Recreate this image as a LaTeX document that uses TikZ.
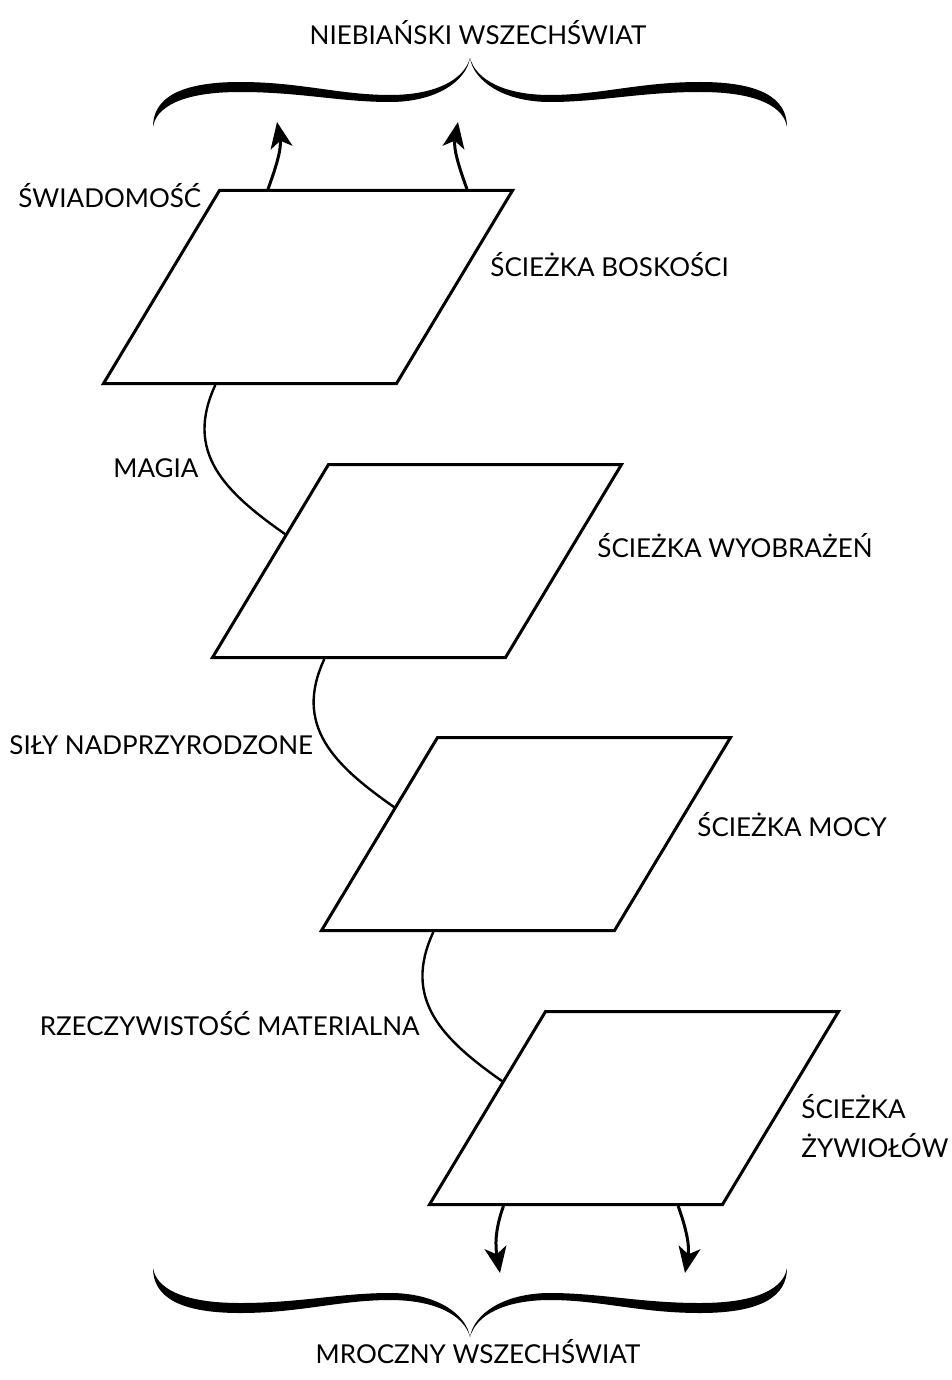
\documentclass[tikz,border=0pt]{standalone}
\usepackage{fontspec}
\setmainfont{Lato}
\usetikzlibrary{arrows.meta,calc}

\tikzset{
  plaszczyzna/.style={rectangle, draw, line width=1.5pt,
    minimum width=146.5pt, minimum height=96.5pt, inner sep=0pt,
    xslant=0.601, transform shape},
  napis/.style={inner sep=0pt, font=\fontsize{13}{19.5}\selectfont},
  luk/.style={line width=1.2pt},
  strzalka/.style={line width=1.5pt, -{Stealth[length=13pt,width=11pt,inset=3.5pt]}},
}

\begin{document}
\begin{tikzpicture}[x=0.5pt,y=0.5pt]
            \useasboundingbox (0,0) rectangle (952,-1380);

            % Klamry (niebo u gory, mrok u dolu)
            \foreach \sx/\sy/\ty in {1/1/-58, -1/1/-58, 1/-1/-1337, -1/-1/-1337}
              \fill[shift={(470,\ty)}, xscale=\sx, yscale=\sy]
                (-317,-69) .. controls (-317,-40) and (-290,-24) .. (-230,-24)
                .. controls (-170,-24) and (-130,-37) .. (-80,-37)
                .. controls (-35,-37) and (-6,-22) .. (0,0)
                .. controls (-4,-24) and (-35,-44) .. (-80,-44)
                .. controls (-130,-44) and (-170,-34) .. (-230,-34)
                .. controls (-290,-34) and (-314,-50) .. (-317,-69) -- cycle;

            \node[napis, anchor=base] (niebo) at (478,-45) {NIEBIAŃSKI WSZECHŚWIAT};
            \node[napis, anchor=base] (mrok) at (478,-1363) {MROCZNY WSZECHŚWIAT};

            % Sciezki
            \node[plaszczyzna] (boskosc) at (308,-287) {};
            \node[plaszczyzna] (wyobr) at (417,-561) {};
            \node[plaszczyzna] (moc) at (526,-834) {};
            \node[plaszczyzna] (zywioly) at (634,-1108) {};

            \node[napis, anchor=base west] (lboskosc) at (490,-277) {ŚCIEŻKA BOSKOŚCI};
            \node[napis, anchor=base west] (lwyobr) at (597,-557) {ŚCIEŻKA WYOBRAŻEŃ};
            \node[napis, anchor=base west] (lmoc) at (697,-836) {ŚCIEŻKA MOCY};
            \node[napis, anchor=west, align=left] (lzywioly) at (801,-1126) {ŚCIEŻKA\\ŻYWIOŁÓW};

            % Przejscia miedzy sciezkami
            \foreach \a/\b in {boskosc/wyobr, wyobr/moc, moc/zywioly}
              \draw[luk] ($(\a.south west)!0.386!(\a.south east)$)
                to[out=-115, in=145, looseness=1.15]
                ($(\b.north west)!0.363!(\b.south west)$);

            \node[napis, anchor=base west] (lswiad) at (18,-208) {ŚWIADOMOŚĆ};
            \node[napis, anchor=base west] (lmagia) at (113,-477) {MAGIA};
            \node[napis, anchor=base west] (lsily) at (9,-754) {SIŁY NADPRZYRODZONE};
            \node[napis, anchor=base east] (lrzecz) at (420,-1035) {RZECZYWISTOŚĆ MATERIALNA};

            % Strzalki do klamer
            \coordinate (gora1) at (277,-122);
            \coordinate (gora2) at (458,-122);
            \coordinate (dol1) at (500,-1273);
            \coordinate (dol2) at (685,-1273);
            \draw[strzalka] ($(boskosc.north west)!0.166!(boskosc.north east)$) to[out=70, in=-80] (gora1);
            \draw[strzalka] ($(boskosc.north west)!0.838!(boskosc.north east)$) to[out=110, in=-100] (gora2);
            \draw[strzalka] ($(zywioly.south west)!0.258!(zywioly.south east)$) to[out=-110, in=100] (dol1);
            \draw[strzalka] ($(zywioly.south west)!0.848!(zywioly.south east)$) to[out=-70, in=80] (dol2);
\end{tikzpicture}
\end{document}
